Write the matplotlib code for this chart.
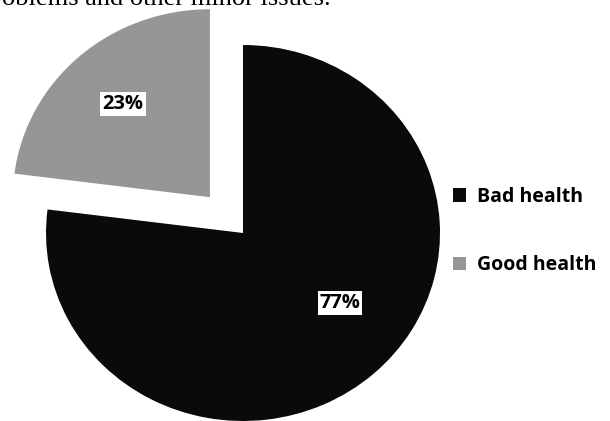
import matplotlib.pyplot as plt
from matplotlib.patches import Patch

labels = ["Bad health", "Good health"]
shares = [77, 23]
colors = ["#0a0a0a", "#969696"]
explode = [0, 50]

# the pie is a little wider than tall, so y data units are stretched
YSCALE = 197 / 188

fig = plt.figure(figsize=(6.1, 4.21), dpi=100)
ax = fig.add_axes([0, 0, 1, 1])

# caption line from the page above, cut by the top edge
ax.text(331, 416 * YSCALE, "problems and other minor issues.", ha="right", va="baseline",
        fontsize=19, family="Liberation Serif", color="black")

wedges, texts, autotexts = ax.pie(
    shares, colors=colors, explode=explode, radius=197, center=(243, 188 * YSCALE),
    startangle=90, counterclock=False, autopct="%d%%", pctdistance=0.63,
    wedgeprops=dict(linewidth=0), frame=True,
    textprops=dict(fontsize=14.5, fontweight="bold", family="Open Sans", color="black"))
ax.set_aspect("auto")
ax.set_xlim(0, 610)
ax.set_ylim(0, 421 * YSCALE)
ax.axis("off")

for t in autotexts:
    t.set_bbox(dict(facecolor="white", edgecolor="none", pad=1.5))
autotexts[0].set_position((340, 118 * YSCALE))
autotexts[1].set_position((123, 317 * YSCALE))

handles = [Patch(facecolor=c, edgecolor="none") for c in colors]
fig.legend(handles, labels, loc="center left", bbox_to_anchor=(435 / 610, 1 - 231 / 421),
           frameon=False, handlelength=0.7, handleheight=0.7, handletextpad=0.55,
           labelspacing=2.5, prop=dict(family="Open Sans", weight="bold", size=14))

fig.savefig("out.png", dpi=100)
